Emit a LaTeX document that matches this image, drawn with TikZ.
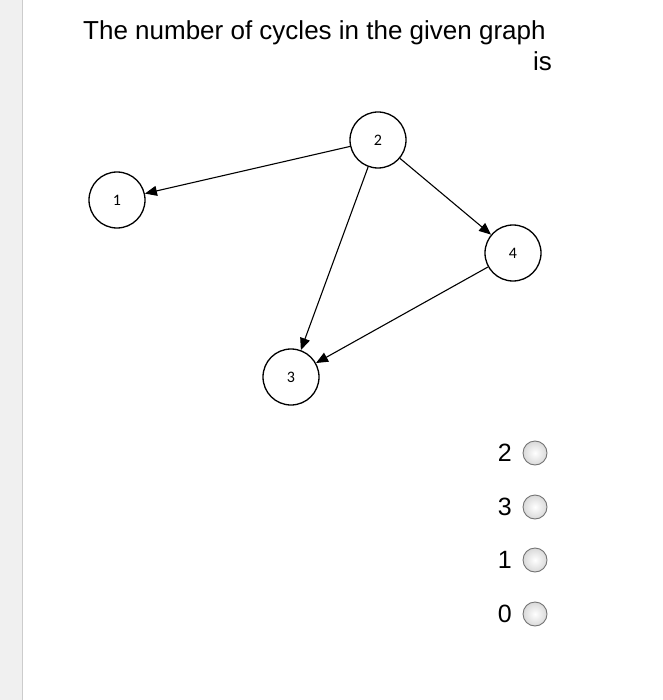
\documentclass[tikz,border=0pt]{standalone}
\usepackage{fontspec}
\setmainfont{Liberation Sans}
\newfontfamily\carl{Carlito}
\usetikzlibrary{arrows.meta}
\begin{document}
\begin{tikzpicture}[x=1pt,y=-1pt,
  vtx/.style={circle,draw,line width=1.3pt,minimum size=56pt,inner sep=0pt,font=\carl\fontsize{16}{18}\selectfont},
  edge/.style={line width=1.1pt,-{Triangle[length=12pt,width=10pt]}},
  opt/.style={circle,draw=gray!90!black,line width=0.9pt,inner color=white,outer color=gray!30,minimum size=24pt,inner sep=0pt},
  lab/.style={font=\fontsize{25}{28}\selectfont}]
\useasboundingbox (0,0) rectangle (662,700);
\fill[gray!12] (0,0) rectangle (22,700);
\draw[gray!40] (22,0) -- (22,700);
\node[font=\fontsize{26}{30}\selectfont,anchor=west,inner sep=0pt] (t1) at (83,33) {The number of cycles in the given graph};
\node[font=\fontsize{26}{30}\selectfont,anchor=east,inner sep=0pt] (t2) at (552,61) {is};
\node[vtx] (n1) at (117,200) {1};
\node[vtx] (n2) at (378,140) {2};
\node[vtx] (n4) at (513,253) {4};
\node[vtx] (n3) at (291,377) {3};
\draw[edge] (n2) -- (n1);
\draw[edge] (n2) -- (n3);
\draw[edge] (n2) -- (n4);
\draw[edge] (n4) -- (n3);
\foreach \v/\y/\n in {2/453/a,3/507/b,1/560/c,0/614/d}{
  \node[opt] (o\n) at (535,\y) {};
  \node[lab,anchor=east,inner sep=0pt] (l\n) at (512,\y) {\v};
}
\end{tikzpicture}
\end{document}
